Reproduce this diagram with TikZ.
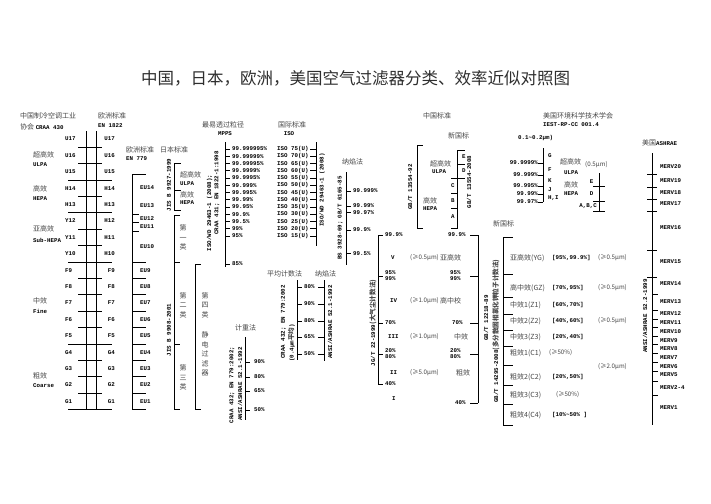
\documentclass[tikz,border=0pt]{standalone}
\usepackage{fontspec}
\newfontfamily\zcjk{Noto Sans CJK SC}
\newfontfamily\zmono{Liberation Mono}
\newcommand\zc[1]{{\zcjk\fontsize{6.6}{8}\selectfont #1}}
\newcommand\zm[1]{{\color{black}\zmono\bfseries\fontsize{5.8}{6}\selectfont #1}}
\tikzset{
  cn/.style={font=\zcjk\fontsize{7}{8}\selectfont, inner sep=0pt, text=black!72},
  pn/.style={font=\zcjk\fontsize{6.2}{7}\selectfont, inner sep=0pt, text=black!72},
  lt/.style={font=\zmono\bfseries\fontsize{5.8}{6}\selectfont, inner sep=0pt},
  stk/.style={font=\zcjk\fontsize{7}{9.6}\selectfont, inner sep=0pt, align=center, text=black!72},
  ln/.style={line width=0.7pt},
  aw/.style={anchor=west},
  ae/.style={anchor=east},
  vt/.style={rotate=90},
}
\begin{document}
\begin{tikzpicture}[x=1pt,y=-1pt]
\useasboundingbox (0,0) rectangle (711,503);
\fill[white] (0,0) rectangle (711,503);

\node[cn,font=\zcjk\fontsize{16.5}{18}\selectfont,text=black!82] (title) at (355.5,78) {中国，日本，欧洲，美国空气过滤器分类、效率近似对照图};

%% ---------- CRAA 430 / EN 1822 ----------
\node[cn,aw] (craaA) at (20,116) {中国制冷空调工业};
\node[cn,aw] (craaB) at (20,127) {协会 \zm{CRAA 430}};
\node[cn,aw] (enA) at (98,116) {欧洲标准};
\node[lt,aw] (enB) at (98,125.5) {EN 1822};
\draw[ln] (86,131) -- (86,409.6);
\draw[ln] (96,131) -- (96,409.6);
\foreach \yy in {147.2,163.6,196.4,229.2,245.6,278.4,294.8,311.2,327.6,360.4,376.8,393.2}
  \draw[ln] (78,\yy) -- (102,\yy);
\foreach \yy in {180,212.8,262,344,409.6}
  \draw[ln] (68,\yy) -- (112,\yy);
\foreach \a/\b [count=\i from 0] in {U17/U17,U16/U16,U15/U15,H14/H14,H13/H13,Y12/H12,Y11/H11,Y10/H10,F9/F9,F8/F8,F7/F7,F6/F6,F5/F5,G4/G4,G3/G3,G2/G2,G1/G1} {
  \node[lt,aw] (cl\i) at (65,139+16.4*\i) {\a};
  \node[lt,ae] (cr\i) at (115,139+16.4*\i) {\b};
}
\node[cn,aw] (k1) at (33,155) {超高效};
\node[lt,aw] (k1e) at (33,165) {ULPA};
\node[cn,aw] (k2) at (33,189) {高效};
\node[lt,aw] (k2e) at (33,199) {HEPA};
\node[cn,aw] (k3) at (33,229) {亚高效};
\node[lt,aw] (k3e) at (33,240) {Sub-HEPA};
\node[cn,aw] (k4) at (33,301) {中效};
\node[lt,aw] (k4e) at (33,311) {Fine};
\node[cn,aw] (k5) at (33,376) {粗效};
\node[lt,aw] (k5e) at (33,385.5) {Coarse};

%% ---------- EN 779 ----------
\node[cn,aw] (euA) at (126,150) {欧洲标准};
\node[cn,aw] (jpA) at (160,150) {日本标准};
\node[lt,aw] (euB) at (126,158.5) {EN 779};
\draw[ln] (132,174) -- (132,409.6);
\foreach \yy in {174,262,278.4,294.8,311.2,327.6,344,360.4,376.8,393.2,409.6}
  \draw[ln] (132,\yy) -- (146,\yy);
\foreach \yy in {214,222.6,231.2}
  \draw[ln] (132,\yy) -- (139,\yy);
\node[lt,aw] (eu14) at (140,188) {EU14};
\node[lt,aw] (eu13) at (140,206) {EU13};
\node[lt,aw] (eu12) at (140,218.4) {EU12};
\node[lt,aw] (eu11) at (140,227) {EU11};
\node[lt,aw] (eu10) at (140,247) {EU10};
\foreach \a [count=\i from 8] in {EU9,EU8,EU7,EU6,EU5,EU4,EU3,EU2,EU1}
  \node[lt,aw] (eu\a) at (140,139+16.4*\i) {\a};

%% ---------- JIS ----------
\draw[ln] (174,163) -- (174,210);
\foreach \yy in {163,190,210} \draw[ln] (174,\yy) -- (181,\yy);
\node[lt,vt] (jis1) at (169,185) {JIS B 9927-1999};
\node[cn,aw] (j1a) at (180,175) {超高效};
\node[lt,aw] (j1b) at (180,183.5) {ULPA};
\node[cn,aw] (j2a) at (180,194.5) {高效};
\node[lt,aw] (j2b) at (180,203) {HEPA};
\draw[ln] (174,215) -- (174,409.6);
\foreach \yy in {215,262,344,409.6} \draw[ln] (174,\yy) -- (180,\yy);
\node[stk] (jc1) at (183,237.6) {第\\一\\类};
\node[stk] (jc2) at (183,305) {第\\二\\类};
\node[stk] (jc3) at (183,377.5) {第\\三\\类};
\node[lt,vt] (jis2) at (169,330) {JIS B 9908-2001};
\draw[ln] (195,264) -- (195,409.6);
\foreach \yy in {264,409.6} \draw[ln] (195,\yy) -- (201,\yy);
\node[stk] (jc4) at (205,305) {第\\四\\类};
\node[stk] (jc5) at (205,354) {静\\电\\过\\滤\\器};

%% ---------- MPPS ----------
\node[cn,aw] (mppsA) at (202,125) {最易透过粒径};
\node[lt] (mppsB) at (225,134) {MPPS};
\draw[ln] (225,142) -- (225,267);
\foreach \v [count=\k from 0] in {99.999995\%,99.99999\%,99.99995\%,99.9999\%,99.9995\%,99.999\%,99.995\%,99.99\%,99.95\%,99.9\%,99.5\%,99\%,95\%} {
  \node[lt,aw] (mp\k) at (232,149+7.25*\k) {\v};
  \draw[ln] (225,149+7.25*\k) -- (230,149+7.25*\k);
}
\node[lt,aw] (mp85) at (232,264) {85\%};
\draw[ln] (225,264) -- (230,264);
\node[lt,vt] (mpA) at (209.5,213) {ISO/WD 29463-1 (2008);};
\node[lt,vt] (mpB) at (217,193) {CRAA 431; EN 1822-1:1998};

%% ---------- ISO ----------
\node[cn,aw] (isoA) at (278,125) {国际标准};
\node[lt] (isoB) at (289,134) {ISO};
\draw[ln] (316,142) -- (316,246);
\foreach \v [count=\k from 0] in {75,70,65,60,55,50,45,40,35,30,25,20,15} {
  \node[lt,aw] (iso\k) at (277,149+7.25*\k) {ISO \v(U)};
  \draw[ln] (310,149+7.25*\k) -- (316,149+7.25*\k);
}
\node[lt,vt] (isoC) at (322,190) {ISO/WD 29463-1 (2008)};

%% ---------- sodium flame (HEPA) ----------
\node[cn,aw] (naA) at (342,162) {纳焰法};
\draw[ln] (346,172) -- (346,265);
\foreach \v/\yy [count=\k] in {99.999\%/191,99.99\%/206,99.97\%/212.5,99.9\%/230,99.5\%/253.5} {
  \node[lt,aw] (na\k) at (353,\yy) {\v};
  \draw[ln] (346,\yy) -- (351,\yy);
}
\node[lt,vt] (naB) at (340,218) {BS 3928-69; GB/T 6165-85};

%% ---------- average counting / sodium flame ----------
\node[cn,aw] (avA) at (267,274) {平均计数法};
\node[cn,aw] (avB) at (315,274) {纳焰法};
\draw[ln] (297,280) -- (297,360);
\draw[ln] (324,280) -- (324,361);
\foreach \v/\yy [count=\k] in {80\%/287,90\%/304,80\%/321,65\%/337,50\%/354} {
  \node[lt,aw] (av\k) at (304,\yy) {\v};
  \draw[ln] (297,\yy) -- (302,\yy);
  \draw[ln] (318,\yy) -- (324,\yy);
}
\node[lt,vt] (avC) at (283.5,322) {CRAA 432; EN 779:2002};
\node[lt,vt] (avD) at (291.5,343) {(0.4μm{\color{black!72}\zc{平均}})};
\node[lt,vt] (avE) at (330,322) {ANSI/ASHRAE 52.1-1992};

%% ---------- gravimetric ----------
\node[cn,aw] (gwA) at (235,328) {计重法};
\draw[ln] (245,337) -- (245,420);
\foreach \v/\yy [count=\k] in {90\%/362,80\%/377,65\%/391,50\%/410} {
  \node[lt,aw] (gw\k) at (254,\yy) {\v};
  \draw[ln] (245,\yy) -- (250,\yy);
}
\node[lt,vt] (gwB) at (232,385) {CRAA 432; EN 779:2002;};
\node[lt,vt] (gwC) at (240,384) {ANSI/ASHRAE 52.1-1992};

%% ---------- China HEPA ----------
\node[cn,aw] (cnA) at (423,116) {中国标准};
\node[cn,aw] (cnB) at (448,136) {新国标};
\draw[ln] (417,145) -- (417,228);
\foreach \yy in {145,228} \draw[ln] (417,\yy) -- (423,\yy);
\node[lt,vt] (cnC) at (410,187) {GB/T 13554-92};
\node[cn,aw] (cn1) at (430,164) {超高效};
\node[lt,aw] (cn1e) at (432,172) {ULPA};
\node[cn,aw] (cn2) at (423,201) {高效};
\node[lt,aw] (cn2e) at (423,209) {HEPA};
\draw[ln] (457.5,150) -- (457.5,228);
\foreach \yy in {150,164,178} \draw[ln] (457.5,\yy) -- (465,\yy);
\foreach \yy in {178,193,208,228} \draw[ln] (451,\yy) -- (457.5,\yy);
\node[lt,aw] (gE) at (462,157) {E};
\node[lt,aw] (gD) at (462,171) {D};
\node[lt,aw] (gC) at (451,186) {C};
\node[lt,aw] (gB) at (451,201) {B};
\node[lt,aw] (gA) at (451,217) {A};
\node[lt,vt] (cnD) at (469,182) {GB/T 13554-2008};

%% ---------- JG/T 22-1999 ----------
\draw[ln] (378,235) -- (378,384);
\foreach \yy in {235,276,323,354,384} \draw[ln] (378,\yy) -- (383,\yy);
\draw[ln] (478,235) -- (478,403);
\foreach \yy in {235,276,323,354,403} \draw[ln] (470,\yy) -- (478,\yy);
\foreach \v/\yy [count=\k] in {99.9\%/235,95\%/273,99\%/279,70\%/323,20\%/351,80\%/357,40\%/383.5}
  \node[lt,aw] (jl\k) at (385,\yy) {\v};
\node[lt,aw] (jr1) at (448,235) {99.9\%};
\node[lt,aw] (jr2) at (450,273) {95\%};
\node[lt,aw] (jr3) at (450,279) {99\%};
\node[lt,aw] (jr4) at (452,323) {70\%};
\node[lt,aw] (jr5) at (450,351) {20\%};
\node[lt,aw] (jr6) at (450,357) {80\%};
\node[lt,aw] (jr7) at (455,403) {40\%};
\node[lt,aw] (jg5) at (391,258) {V};
\node[pn,aw] (jp5) at (410,258) {(≥0.5μm)};
\node[cn,aw] (jn5) at (440,258) {亚高效};
\node[lt,aw] (jg4) at (390,301) {IV};
\node[pn,aw] (jp4) at (410,301) {(≥1.0μm)};
\node[cn,aw] (jn4) at (440,301) {高中校};
\node[lt,aw] (jg3) at (388,337) {III};
\node[pn,aw] (jp3) at (410,337) {(≥1.0μm)};
\node[cn,aw] (jn3) at (454,337) {中效};
\node[lt,aw] (jg2) at (390,373) {II};
\node[pn,aw] (jp2) at (410,373) {(≥5.0μm)};
\node[cn,aw] (jn2) at (456,373) {粗效};
\node[lt,aw] (jg1) at (392,399) {I};
\node[lt,vt] (jgA) at (373,323) {JG/T 22-1999{\color{black!72}\zc{(大气尘计数法)}}};
\node[lt,vt] (jgB) at (486,318) {GB/T 12218-89};

%% ---------- IEST ----------
\node[cn,aw] (ieA) at (543,116) {美国环境科学技术学会};
\node[lt,aw] (ieB) at (543,125) {IEST-RP-CC 001.4};
\node[lt,aw] (ieC) at (518,138) {0.1\textasciitilde 0.2μm)};
\draw[ln] (543,148) -- (543,202);
\foreach \v/\yy [count=\k] in {99.9999\%/163,99.999\%/175,99.995\%/186,99.99\%/194,99.97\%/202} {
  \node[lt,ae] (iel\k) at (538,\yy) {\v};
  \draw[ln] (538,\yy) -- (543,\yy);
}
\foreach \v/\yy [count=\k] in {G/156,F/170,K/181,J/190,{H,I}/198}
  \node[lt,aw] (ier\k) at (548,\yy) {\v};
\node[cn,aw] (ie1) at (560,162) {超高效};
\node[lt,aw] (ie1e) at (564,173) {ULPA};
\node[pn,aw] (ie1p) at (585,165) {(0.5μm)};
\node[cn,aw] (ie2) at (564,185) {高效};
\node[lt,aw] (ie2e) at (564,194) {HEPA};
\draw[ln] (599,173) -- (599,212);
\foreach \yy in {186,201,211} \draw[ln] (593,\yy) -- (605,\yy);
\node[lt] (ieE) at (591.5,182) {E};
\node[lt] (ieD) at (591.5,194) {D};
\node[lt,ae] (ieABC) at (597,206) {A,B,C};

%% ---------- ASHRAE ----------
\node[cn,aw] (asA) at (642,143) {美国\zm{ASHRAE}};
\draw[ln] (652,153) -- (652,425);
\foreach \yy in {174,187,199,211,250,277} \draw[ln] (647,\yy) -- (657,\yy);
\foreach \yy in {294,310,319,327,336,344,353,362,371,381,395} \draw[ln] (652,\yy) -- (658,\yy);
\foreach \v/\yy [count=\k] in {MERV20/167,MERV19/181,MERV18/193,MERV17/204,MERV16/227.5,MERV15/262,MERV14/283.5,MERV13/301.5,MERV12/314,MERV11/323,MERV10/331.5,MERV9/340.5,MERV8/349,MERV7/357.5,MERV6/366.5,MERV5/375,MERV2-4/387.5,MERV1/407.5}
  \node[lt,aw] (mv\k) at (660,\yy) {\v};
\node[lt,vt] (asB) at (645,316) {ANSI/ASHRAE 52.2-1999};

%% ---------- GB/T 14295-2008 ----------
\node[cn,aw] (nsA) at (493,224) {新国标};
\draw[ln] (503,237) -- (503,425);
\foreach \yy in {237,274,297,314,330,346,365,385,404,425} \draw[ln] (503,\yy) -- (513,\yy);
\node[lt,vt] (nsB) at (496,331) {GB/T 14295-2008{\color{black!72}\zc{(多分散固相氯化钾粒子计数法)}}};
\node[cn,aw] (ns1) at (510,258) {亚高效(YG)};
\node[lt,aw] (ns1r) at (552,258) {[95\%,99.9\%]};
\node[pn,aw] (ns1p) at (598,258) {(≥0.5μm)};
\node[cn,aw] (ns2) at (510,288) {高中效(GZ)};
\node[lt,aw] (ns2r) at (552,288) {[70\%,95\%]};
\node[pn,aw] (ns2p) at (598,288) {(≥0.5μm)};
\node[cn,aw] (ns3) at (510,305) {中效1(Z1)};
\node[lt,aw] (ns3r) at (552,305) {[60\%,70\%]};
\node[cn,aw] (ns4) at (510,321) {中效2(Z2)};
\node[lt,aw] (ns4r) at (552,321) {[40\%,60\%]};
\node[pn,aw] (ns4p) at (598,321) {(≥0.5μm)};
\node[cn,aw] (ns5) at (510,337) {中效3(Z3)};
\node[lt,aw] (ns5r) at (552,337) {[20\%,40\%]};
\node[cn,aw] (ns6) at (510,353) {粗效1(C1)};
\node[pn,aw] (ns6r) at (549,353) {(≥50\%)};
\node[pn,aw] (ns7p) at (598,367) {(≥2.0μm)};
\node[cn,aw] (ns7) at (510,377) {粗效2(C2)};
\node[lt,aw] (ns7r) at (552,377) {[20\%,50\%]};
\node[cn,aw] (ns8) at (510,395) {粗效3(C3)};
\node[pn,aw] (ns8r) at (556,395) {(≥50\%)};
\node[cn,aw] (ns9) at (510,415) {粗效4(C4)};
\node[lt,aw] (ns9r) at (552,415) {[10\%\textasciitilde 50\% ]};
\end{tikzpicture}
\end{document}
